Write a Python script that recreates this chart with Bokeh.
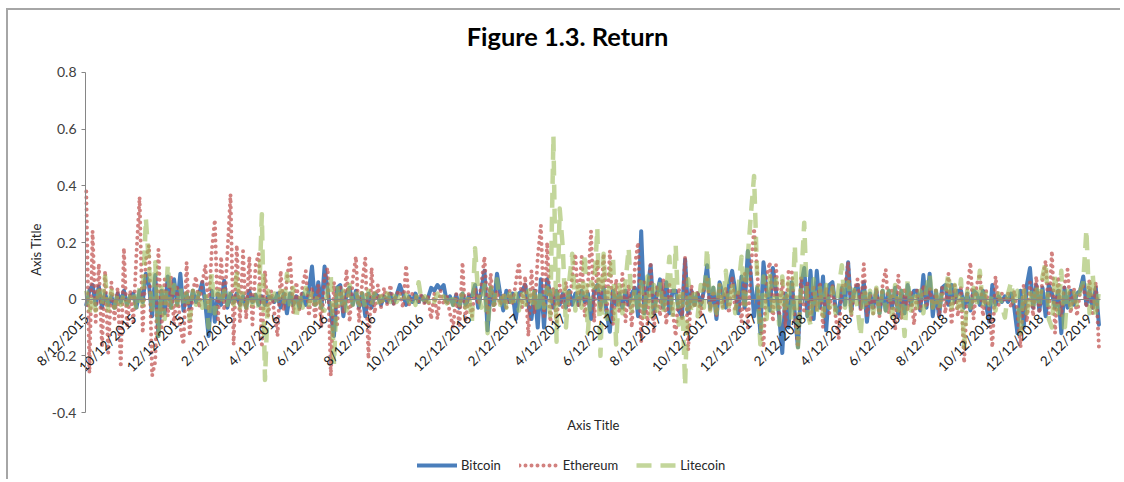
import math
import pandas as pd
from bokeh.plotting import figure
from bokeh.models import Range1d, FixedTicker, Label, Legend, LegendItem
from bokeh.embed import file_html
from bokeh.resources import INLINE

STEP_DAYS = 4
START = pd.Timestamp("2015-08-12")
tick_dates = ["8/12/2015","10/12/2015","12/12/2015","2/12/2016","4/12/2016","6/12/2016","8/12/2016",
              "10/12/2016","12/12/2016","2/12/2017","4/12/2017","6/12/2017","8/12/2017","10/12/2017",
              "12/12/2017","2/12/2018","4/12/2018","6/12/2018","8/12/2018","10/12/2018","12/12/2018","2/12/2019"]
y_ticks = [-0.4,-0.2,0,0.2,0.4,0.6,0.8]

bitcoin = [
-.02,.03,.05,-.02,.045,-.03,.02,-.02,.01,-.03,.02,-.01,.03,-.02,.01,
.02,-.03,.03,-.01,.09,.05,-.06,.085,-.13,.03,-.05,.08,-.03,.07,-.02,
.09,-.04,.02,-.03,.03,-.01,.02,.06,-.02,-.13,.03,-.08,.02,-.02,.065,
-.03,.02,-.01,.02,-.02,.01,-.03,.03,-.01,.015,-.02,.01,-.02,.01,.005,
-.01,.02,-.03,.02,-.05,.02,-.02,.01,-.03,.02,-.02,.03,.115,-.02,.06,
-.03,.115,.03,-.05,-.13,.04,.05,-.06,.02,.04,-.02,.03,-.03,.02,-.06,
.02,-.03,.02,.01,-.02,.01,-.01,.02,-.015,.015,.05,.02,-.02,.01,-.01,
.02,-.01,.01,-.01,.005,.04,.03,.05,.035,.05,-.01,.01,-.02,.015,-.03,
.02,-.02,.01,.01,.05,-.03,.03,.1,-.11,.04,-.02,.09,.02,-.04,.03,
-.01,.02,-.07,.02,.03,.05,-.02,-.07,.03,-.1,.07,-.1,.07,.02,-.03,
.03,-.02,.02,-.03,.03,-.02,.02,-.02,.03,-.01,.02,-.07,.03,.05,-.03,
.04,-.05,-.115,.03,-.02,.02,-.03,.03,-.02,.02,.04,-.06,.24,-.05,.03,
.12,-.05,.02,.07,-.03,.06,-.05,.03,.03,-.04,-.06,.14,-.05,.03,-.02,
.02,-.02,.03,.12,-.03,.04,-.07,.06,.02,-.03,.05,.1,.03,-.05,.08,
-.03,.17,.08,-.06,.04,-.12,.13,.03,-.04,.11,.03,-.06,-.19,.02,-.1,
.06,-.05,-.17,.05,.11,-.06,.1,-.07,.1,-.03,.08,-.11,.05,.06,-.03,
-.05,.04,-.02,.13,-.04,.03,.05,-.03,.06,-.08,.02,-.03,.03,-.05,.03,
-.04,.03,-.03,.04,-.06,.03,-.05,.05,-.02,.03,.03,-.04,.085,-.03,.09,
-.06,.03,-.06,.04,.05,-.02,.05,-.01,.03,.03,-.03,.02,-.04,.03,.02,
-.02,.03,-.02,-.08,.05,-.02,.01,-.01,.01,-.01,.02,-.03,-.12,.03,-.1,
.05,.11,-.03,.05,-.04,.04,-.06,.05,.02,-.03,.03,-.12,.04,-.03,.03,
-.02,.02,.03,.08,-.02,.03,-.03,.04,-.09]

ethereum = [
.38,-.26,.24,-.08,.125,-.17,.1,-.19,.06,-.07,.04,-.24,.18,-.1,.03,
-.08,.16,.36,-.12,.14,.19,-.27,-.22,.175,-.1,.07,-.06,.08,-.09,.05,
-.1,-.16,.13,-.13,.03,.08,-.03,.06,.12,-.04,.17,.28,-.08,.15,-.04,
.16,.37,-.16,.19,-.08,.17,-.07,.15,-.09,.12,.16,-.17,.1,-.06,.03,
-.05,-.13,.1,-.04,.07,.155,-.05,.06,-.04,.05,.1,-.06,.04,-.07,.05,
-.1,.08,.11,-.27,.06,-.09,.05,-.05,.105,-.08,.07,.15,-.08,.06,.145,
-.21,.11,-.05,.05,-.03,.04,-.02,.05,-.02,.02,.03,-.03,.12,-.02,.02,
.01,-.01,.02,-.02,.01,-.07,.02,-.07,.03,-.02,.01,-.05,-.1,.02,-.1,
.13,-.08,.02,-.06,.04,-.02,.05,.15,-.05,.09,-.04,.03,-.02,.02,-.03,
.03,-.02,.06,.13,-.03,.08,-.13,.1,-.05,.15,.26,-.06,.2,-.08,.04,
-.08,.05,-.03,.06,-.04,.08,.16,-.03,.15,-.06,.05,.24,-.08,.14,-.04,
.16,-.06,.17,-.09,.07,-.05,.09,-.08,.05,-.1,.12,.2,-.15,.06,-.09,
.13,-.12,.05,-.06,.07,-.09,.05,-.04,-.13,.04,-.07,.15,-.18,.05,-.03,
.03,-.06,.05,.07,-.04,.03,-.06,.05,-.03,.04,-.05,.08,-.04,.03,-.08,
.09,-.1,.11,.25,.1,-.08,-.17,.08,.13,-.08,.12,-.06,.07,-.1,.1,
.1,-.07,-.17,.08,-.05,.06,-.08,.05,-.04,.06,-.1,.04,-.05,.05,-.06,
-.14,.05,.04,.13,-.06,.03,.07,-.04,.125,-.06,.02,-.05,.04,-.06,.05,
.105,-.05,.03,-.11,.085,-.07,.04,-.04,.03,-.09,.03,-.04,.05,-.03,.04,
-.03,.03,-.06,.04,-.05,.09,-.09,.05,-.06,.04,-.225,.03,.13,-.07,.05,
.09,-.06,.03,-.04,-.17,.08,-.02,.02,-.01,.02,-.03,.03,-.05,-.17,.05,
-.08,.06,-.06,.08,-.05,.07,.135,-.05,.17,-.12,.08,-.06,.05,.105,-.05,
.04,-.06,.03,.05,-.03,.07,-.05,.06,-.17]

litecoin = [
.03,-.05,.02,-.04,.03,-.02,.08,-.04,.03,-.03,.02,-.02,.02,-.02,.01,
.03,-.04,.04,-.02,.285,.12,-.05,.13,-.13,.04,-.07,.12,-.03,.05,-.02,
.04,-.02,.02,-.07,.03,-.02,.03,-.03,.02,-.1,.09,-.05,.03,-.02,.03,
-.02,.03,-.02,.09,-.03,.02,-.03,.02,-.02,.03,-.03,.3,-.285,.03,-.02,
.02,-.02,.03,-.02,.09,-.03,.04,-.07,.02,-.03,.04,-.02,.03,-.02,.02,
-.03,-.04,.03,.08,-.23,.05,-.03,.03,-.04,.05,-.02,.03,-.02,.02,-.03,
.03,-.02,.02,-.02,.01,-.02,.02,-.01,.02,-.01,.01,-.01,.015,-.01,.01,
-.02,.06,-.01,.01,-.01,.01,-.01,.02,-.01,.01,-.015,.02,-.02,.01,-.02,
.02,-.03,.02,-.08,.18,.02,-.03,.05,-.12,.04,-.02,.07,-.02,.03,-.03,
.02,-.03,.02,-.04,.03,-.02,.03,-.03,.04,-.05,.03,-.03,.04,-.06,.575,
-.15,.32,.18,-.1,.06,.16,-.04,.05,-.03,.16,-.12,.06,.04,.25,-.2,
.16,-.07,.08,.15,-.16,.05,-.05,.06,.18,-.05,.04,-.05,.06,-.07,.08,
-.06,.05,-.04,.06,-.05,.03,.15,-.07,.19,-.09,.04,-.305,.07,-.05,.04,
-.06,.05,-.03,.18,-.04,.04,-.05,.05,-.03,.1,-.04,.06,-.05,.04,.15,
-.04,.15,.3,.435,.07,-.16,.08,-.07,.09,-.06,.07,-.09,.08,-.05,.06,
-.08,.19,-.17,.06,.27,-.05,-.09,.07,-.05,.04,-.06,.05,-.03,.04,-.05,
.04,.12,-.03,.06,-.05,.05,-.03,-.13,.04,-.03,.03,-.05,.04,-.05,.03,
-.04,.03,-.06,.05,-.04,.03,-.13,.07,-.04,.03,-.03,.03,-.05,.04,.09,
-.03,.03,-.04,.03,.02,.09,-.03,.05,-.03,.07,-.17,.03,-.03,.04,-.03,
.1,-.03,.03,-.02,.02,-.04,.02,-.02,-.065,.02,.06,-.02,.03,-.12,.04,
-.05,.03,-.04,.05,-.03,.08,.13,-.07,-.1,.09,-.05,.1,-.12,.03,-.03,
.03,-.02,.03,.06,.245,-.05,.09,-.06,.03]

FONT = "Lato"
days = [i * STEP_DAYS for i in range(len(bitcoin))]
tick_days = [(pd.Timestamp(d) - START).days for d in tick_dates]

# The frame fills the whole chart box so that axis labels, titles and legend lie inside it.
p = figure(width=1114, height=471, output_backend="svg", toolbar_location=None,
           x_range=Range1d(-99.24, 1322.06), y_range=Range1d(-0.6435, 1.0188),
           min_border_left=0, min_border_right=0, min_border_top=0, min_border_bottom=0)
p.styles = {"border-left": "2px solid #a6a6a6", "border-top": "2px solid #a6a6a6",
            "margin-left": "6px", "margin-top": "8px"}
p.outline_line_color = None
p.grid.visible = False

p.yaxis.fixed_location = -1
p.yaxis.bounds = (-0.4, 0.8)
p.yaxis.ticker = FixedTicker(ticks=y_ticks)
p.yaxis.axis_line_color = "#868686"
p.yaxis.major_tick_line_color = "#868686"
p.yaxis.major_tick_in = 0
p.yaxis.major_tick_out = 4
p.yaxis.minor_tick_line_color = None
p.yaxis.major_label_text_font = FONT
p.yaxis.major_label_text_font_size = "14px"
p.yaxis.major_label_text_color = "#404040"
p.yaxis.major_label_overrides = {-0.4: "-0.4", -0.2: "-0.2"}

p.xaxis.fixed_location = 0
p.xaxis.bounds = (-1, 1294)
p.xaxis.ticker = FixedTicker(ticks=tick_days)
p.xaxis.major_label_overrides = dict(zip(tick_days, tick_dates))
p.xaxis.major_label_orientation = math.pi / 4
p.xaxis.major_label_text_font = FONT
p.xaxis.major_label_text_font_size = "13.5px"
p.xaxis.major_label_text_color = "#1a1a1a"
p.xaxis.major_label_standoff = 13
p.xaxis.axis_line_color = "#868686"
p.xaxis.major_tick_line_color = "#868686"
p.xaxis.major_tick_in = 0
p.xaxis.major_tick_out = 4
p.xaxis.minor_tick_line_color = None

r1 = p.line(days, bitcoin, line_color="#4A7EBB", line_width=4, line_join="round", line_cap="round")
r2 = p.line(days, ethereum, line_color="#C0504D", line_alpha=0.72, line_width=4,
            line_dash="0 6", line_cap="round", line_join="round")
r3 = p.line(days, litecoin, line_color="#9BBB59", line_alpha=0.6, line_width=4.5,
            line_dash="15 9", line_join="round")

legend = Legend(items=[LegendItem(label="Bitcoin", renderers=[r1]),
                       LegendItem(label="Ethereum", renderers=[r2]),
                       LegendItem(label="Litecoin", renderers=[r3])],
                orientation="horizontal", location=(409, 8), glyph_width=40, glyph_height=14,
                label_standoff=4, spacing=18, padding=0, margin=0,
                border_line_color=None, background_fill_alpha=0,
                label_text_font=FONT, label_text_font_size="13px", label_text_color="#262626")
p.add_layout(legend, "center")

p.add_layout(Label(x=559, y=446, x_units="screen", y_units="screen", text="Figure 1.3. Return",
                   text_align="center", text_baseline="middle", text_font=FONT, text_font_style="bold",
                   text_font_size="25.4px", text_color="#000000"))
p.add_layout(Label(x=585, y=57, x_units="screen", y_units="screen", text="Axis Title",
                   text_align="center", text_baseline="middle", text_font=FONT,
                   text_font_size="13px", text_color="#262626"))
p.add_layout(Label(x=27, y=232, x_units="screen", y_units="screen", text="Axis Title", angle=math.pi / 2,
                   text_align="center", text_baseline="middle", text_font=FONT,
                   text_font_size="13px", text_color="#262626"))

open("out.html", "w").write(file_html(p, INLINE))
